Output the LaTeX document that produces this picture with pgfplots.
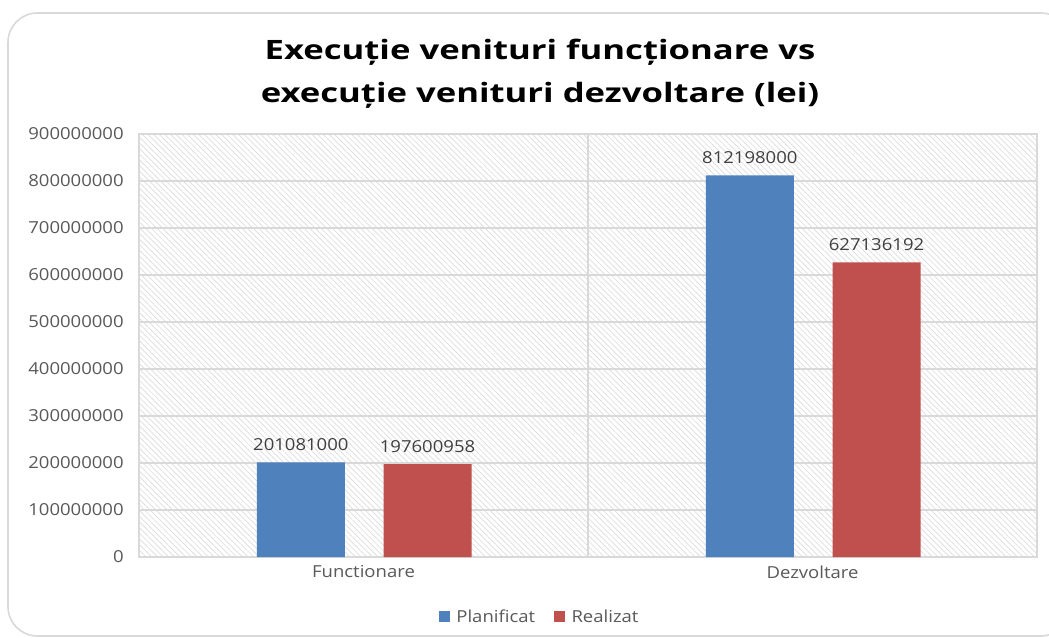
\documentclass[border=0pt]{standalone}
\usepackage{fontspec}
\setmainfont{Open Sans}[FakeStretch=1.12]
\newfontfamily\titlefont{Open Sans}[FakeStretch=1.3]
\usepackage{pgfplots}
\pgfplotsset{compat=1.18}
\usetikzlibrary{patterns.meta}
\definecolor{cblue}{HTML}{4F81BD}
\definecolor{cred}{HTML}{C0504D}
\definecolor{tickgray}{HTML}{595959}
\definecolor{labgray}{HTML}{404040}
\definecolor{gridgray}{HTML}{D9D9D9}
\definecolor{hatchgray}{HTML}{DCDCDC}
\begin{document}
\begin{tikzpicture}
\begin{scope}[x=0.75pt,y=0.75pt]
\useasboundingbox (0,0) rectangle (1049,637);
\fill[white] (0,0) rectangle (1049,637);
\draw[gridgray, line width=1.2pt, rounded corners=22pt] (8,1) rectangle (1070,624);
\node[font=\titlefont\bfseries\fontsize{20}{23}\selectfont, anchor=base] at (540,577) {Execuție venituri funcționare vs};
\node[font=\titlefont\bfseries\fontsize{20}{23}\selectfont, anchor=base] at (540,534) {execuție venituri dezvoltare (lei)};
\end{scope}
\begin{axis}[
  at={(104.25pt,60pt)}, anchor=south west,
  scale only axis, width=673.5pt, height=317.25pt,
  ybar, bar width=66pt,
  xmin=-0.5, xmax=1.5, ymin=0, ymax=900000000,
  scaled y ticks=false,
  xtick={0,1}, xticklabels={Functionare,Dezvoltare},
  ytick={0,100000000,200000000,300000000,400000000,500000000,600000000,700000000,800000000,900000000},
  yticklabels={0,100000000,200000000,300000000,400000000,500000000,600000000,700000000,800000000,900000000},
  major tick length=0pt,
  extra x ticks={0.5}, extra x tick labels={},
  extra x tick style={grid=major},
  ymajorgrids,
  grid style={gridgray, line width=0.9pt},
  axis line style={gridgray, line width=0.9pt},
  axis background/.style={pattern={Lines[angle=-45,distance=3pt,line width=0.5pt]}, pattern color=hatchgray},
  tick label style={font=\fontsize{12.4}{14}\selectfont, text=tickgray},
  yticklabel style={xshift=-8pt},
  xticklabel style={yshift=-3pt},
  point meta=explicit symbolic,
  nodes near coords,
  nodes near coords style={font=\fontsize{12.4}{14}\selectfont, text=labgray, anchor=south, yshift=5pt},
  legend style={at={(0.4465,-0.142)}, anchor=center, draw=none, fill=none,
    legend columns=2, font=\fontsize{12.4}{14}\selectfont, text=tickgray,
    /tikz/every odd column/.append style={column sep=3pt},
    /tikz/every even column/.append style={column sep=12pt}},
  legend image code/.code={\fill (0pt,-4pt) rectangle (8.25pt,4.25pt);},
]
\addplot[fill=cblue, draw=none, bar shift=-47pt] coordinates {(0,201081000) [201081000] (1,812198000) [812198000]};
\addplot[fill=cred, draw=none, bar shift=48pt] coordinates {(0,197600958) [197600958] (1,627136192) [627136192]};
\legend{Planificat,Realizat}
\end{axis}
\end{tikzpicture}
\end{document}
